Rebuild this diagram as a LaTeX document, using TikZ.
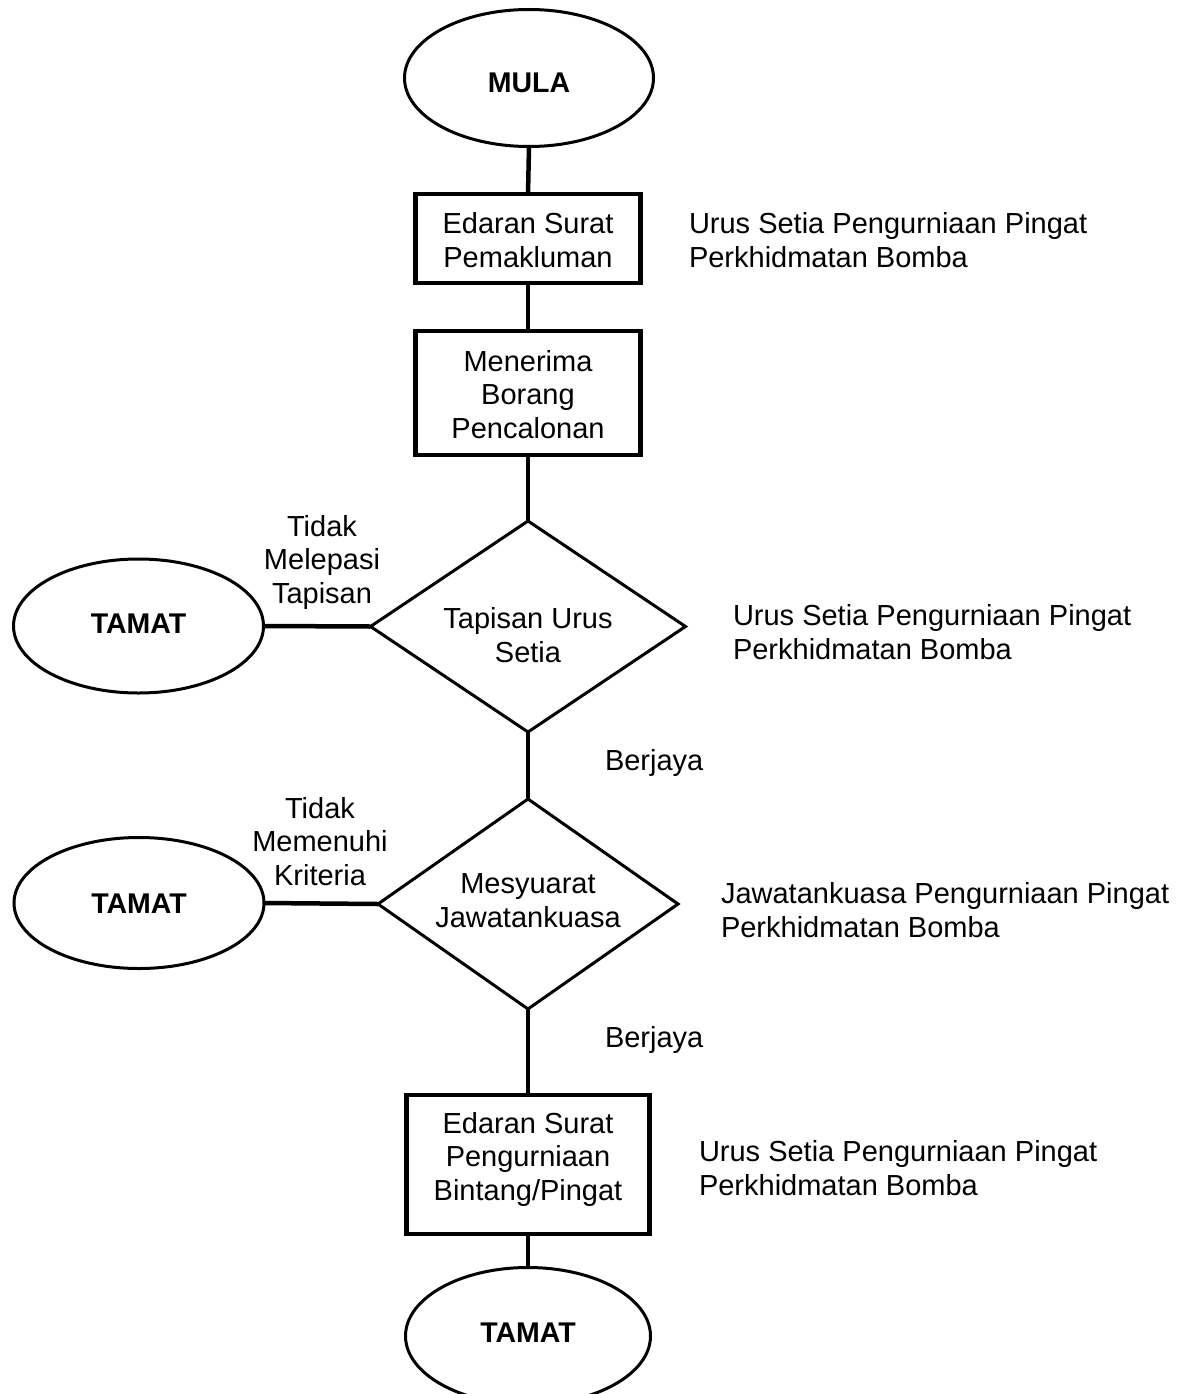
\documentclass[tikz,border=0pt]{standalone}
\usepackage{fontspec}
\setmainfont{Liberation Sans}
\usetikzlibrary{shapes.geometric}
\begin{document}
\begin{tikzpicture}[x=1pt,y=-1pt,
  every node/.style={font=\fontsize{29}{33.5}\selectfont, inner sep=0pt, outer sep=0pt},
  term/.style={ellipse, draw, line width=3pt, font=\fontsize{28.5}{33.5}\selectfont\bfseries, text depth=0pt},
  proc/.style={rectangle, draw, line width=4.5pt, align=center, text depth=0pt},
  dec/.style={diamond, draw, line width=3pt, align=center, shape aspect=1.5, text depth=0pt},
  conn/.style={line width=4.5pt},
  lbl/.style={align=center, anchor=base},
  side/.style={align=left, anchor=base west}]
\useasboundingbox (0,0) rectangle (1190,1394);

% main column
\node[term, minimum width=249pt, minimum height=137pt, text height=30pt] (mula) at (529,78) {MULA};
\node[proc, minimum width=225pt, minimum height=89pt, text height=57pt] (b1) at (528,238.5) {Edaran Surat\\Pemakluman};
\node[proc, minimum width=225pt, minimum height=124pt, text height=90pt] (b2) at (528,393) {Menerima\\Borang\\Pencalonan};
\node[dec, minimum width=315pt, minimum height=211pt, text height=71pt] (d1) at (528,626.5) {Tapisan Urus\\Setia};
\node[dec, minimum width=300pt, minimum height=210pt, text height=46pt] (d2) at (528,904) {Mesyuarat\\Jawatankuasa};
\node[proc, minimum width=243pt, minimum height=139pt, text height=71pt] (b3) at (528,1164.5) {Edaran Surat\\Pengurniaan\\Bintang/Pingat};
\node[term, minimum width=245pt, minimum height=137pt, text height=12pt] (end3) at (528,1336) {TAMAT};

% side terminators
\node[term, minimum width=250pt, minimum height=134pt, text height=14pt] (end1) at (138.5,626) {TAMAT};
\node[term, minimum width=250pt, minimum height=131pt, text height=20pt] (end2) at (139,903) {TAMAT};

% connectors
\draw[conn] (mula.south) -- (b1.north);
\draw[conn] (b1.south) -- (b2.north);
\draw[conn] (b2.south) -- (d1.north);
\draw[conn] (d1.south) -- (d2.north);
\draw[conn] (d2.south) -- (b3.north);
\draw[conn] (b3.south) -- (end3.north);
\draw[conn] (d1.west) -- (end1.east);
\draw[conn] (d2.west) -- (end2.east);

% branch labels
\node[lbl] (l1) at (322,603) {Tidak\\Melepasi\\Tapisan};
\node[lbl] (l2) at (320,885) {Tidak\\Memenuhi\\Kriteria};
\node[anchor=base west] (y1) at (605,770) {Berjaya};
\node[anchor=base west] (y2) at (605,1047) {Berjaya};

% responsibility labels
\node[side] (r1) at (689,267) {Urus Setia Pengurniaan Pingat\\Perkhidmatan Bomba};
\node[side] (r2) at (733,659) {Urus Setia Pengurniaan Pingat\\Perkhidmatan Bomba};
\node[side] (r3) at (721,937) {Jawatankuasa Pengurniaan Pingat\\Perkhidmatan Bomba};
\node[side] (r4) at (699,1195) {Urus Setia Pengurniaan Pingat\\Perkhidmatan Bomba};
\end{tikzpicture}
\end{document}
